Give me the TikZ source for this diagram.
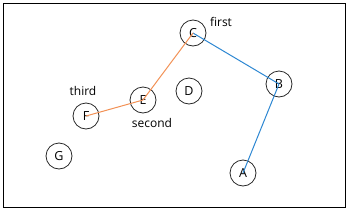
\documentclass[tikz,border=0pt]{standalone}
\usepackage{fontspec}
\setmainfont{Open Sans}
\definecolor{lblue}{RGB}{45,135,210}
\definecolor{lorange}{RGB}{242,145,85}
\definecolor{ring}{RGB}{40,40,40}
\begin{document}
\begin{tikzpicture}[x=1pt,y=-1pt,
  vtx/.style={circle,draw=ring,line width=0.8pt,minimum size=26pt,inner sep=0pt,font=\fontsize{12.5}{14}\selectfont},
  lbl/.style={font=\fontsize{12}{14}\selectfont,inner sep=0pt},
  bedge/.style={draw=lblue,line width=1pt},
  oedge/.style={draw=lorange,line width=1pt}]
\useasboundingbox (0,0) rectangle (348,212);
\draw[line width=1pt] (3,3) rectangle (345,207);
\node[vtx] (C) at (193,33) {C};
\node[vtx] (B) at (279,84) {B};
\node[vtx] (D) at (189,91) {D};
\node[vtx] (E) at (143,100) {E};
\node[vtx] (F) at (86,116) {F};
\node[vtx] (G) at (59,156) {G};
\node[vtx] (A) at (243,173) {A};
\node[lbl] (l1) at (221,22) {first};
\node[lbl] (l2) at (83,91) {third};
\node[lbl] (l3) at (152,123) {second};
\draw[bedge] (C.center) -- (B.center);
\draw[bedge] (B.center) -- (A.center);
\draw[oedge] (C.center) -- (E.center);
\draw[oedge] (E.center) -- (F.center);
\end{tikzpicture}
\end{document}
